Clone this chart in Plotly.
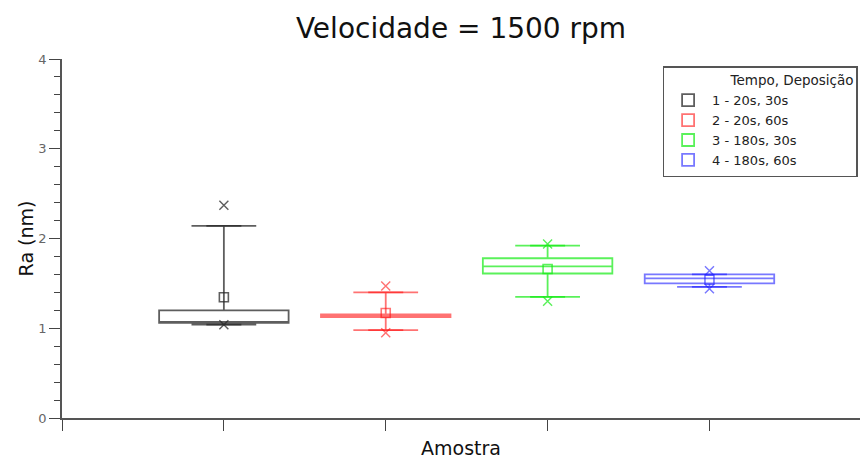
import plotly.graph_objects as go

# Ra summary statistics per sample (nm)
amostras = [1, 2, 3, 4]
nomes = ["1 - 20s, 30s", "2 - 20s, 60s", "3 - 180s, 30s", "4 - 180s, 60s"]
q1 = [1.06, 1.125, 1.61, 1.50]
mediana = [1.06, 1.14, 1.69, 1.555]
q3 = [1.20, 1.155, 1.78, 1.60]
whisker_inf = [1.04, 0.98, 1.35, 1.46]
whisker_sup = [2.14, 1.40, 1.92, 1.60]
media = [1.345, 1.17, 1.66, 1.54]
minimo = [1.04, 0.95, 1.30, 1.44]
maximo = [2.37, 1.47, 1.94, 1.64]

cores = ["rgba(40,40,40,0.75)", "rgba(255,20,20,0.6)",
         "rgba(20,235,20,0.7)", "rgba(30,30,255,0.6)"]

fig = go.Figure()

for i, x in enumerate(amostras):
    c = cores[i]
    fig.add_trace(go.Box(
        x=[x], q1=[q1[i]], median=[mediana[i]], q3=[q3[i]],
        lowerfence=[whisker_inf[i]], upperfence=[whisker_sup[i]],
        name=nomes[i], width=0.8, fillcolor="rgba(0,0,0,0)",
        line=dict(color=c, width=1.8), boxpoints=False,
        hoverinfo="skip", showlegend=True, legendgroup=str(i),
    ))
    # whisker caps
    fig.add_trace(go.Scatter(
        x=[x, x], y=[whisker_inf[i], whisker_sup[i]], mode="markers",
        marker=dict(symbol="line-ew", size=25, line=dict(color=c, width=1.8)),
        showlegend=False, hoverinfo="skip", legendgroup=str(i),
    ))
    # min / max
    fig.add_trace(go.Scatter(
        x=[x, x], y=[minimo[i], maximo[i]], mode="markers",
        marker=dict(symbol="x-thin", size=9, line=dict(color=c, width=1.4)),
        showlegend=False, hoverinfo="skip", legendgroup=str(i),
    ))
    # mean
    fig.add_trace(go.Scatter(
        x=[x], y=[media[i]], mode="markers",
        marker=dict(symbol="square-open", size=9, color=c, line=dict(color=c, width=1.6)),
        showlegend=False, hoverinfo="skip", legendgroup=str(i),
    ))

fig.update_layout(
    width=861, height=461,
    margin=dict(l=62, r=1, t=59, b=43),
    paper_bgcolor="white", plot_bgcolor="white",
    font=dict(family="DejaVu Sans", color="#111"),
    title=dict(text="Velocidade = 1500 rpm", x=0.5, xref="paper", xanchor="center",
               y=0.96, yanchor="top", font=dict(size=28, color="#111")),
    showlegend=True,
    legend=dict(
        title=dict(text="               Tempo, Deposição", font=dict(size=13.5)),
        x=0.997, xanchor="right", y=0.98, yanchor="top",
        bordercolor="#555", borderwidth=1.5, bgcolor="white",
        font=dict(size=13, color="#222"), tracegroupgap=0,
        itemwidth=38,
    ),
    xaxis=dict(
        range=[0, 4.93], tickvals=[0, 1, 2, 3, 4], ticktext=["", "", "", "", ""],
        ticks="outside", ticklen=11, tickwidth=1.2, tickcolor="#444",
        showline=True, linecolor="#555", linewidth=1.5, showgrid=False, zeroline=False,
        title=dict(text="Amostra", font=dict(size=19), standoff=10),
    ),
    yaxis=dict(
        range=[0, 4], tickvals=[0, 1, 2, 3, 4],
        ticks="outside", ticklen=11, tickwidth=1.2, tickcolor="#444",
        minor=dict(ticks="outside", dtick=0.2, ticklen=6, tickwidth=1.2, tickcolor="#444"),
        showline=True, linecolor="#555", linewidth=1.5, showgrid=False, zeroline=False,
        tickfont=dict(size=13, color="#666"),
        title=dict(text="Ra (nm)", font=dict(size=19), standoff=0),
    ),
)

fig.write_html("out.html")
